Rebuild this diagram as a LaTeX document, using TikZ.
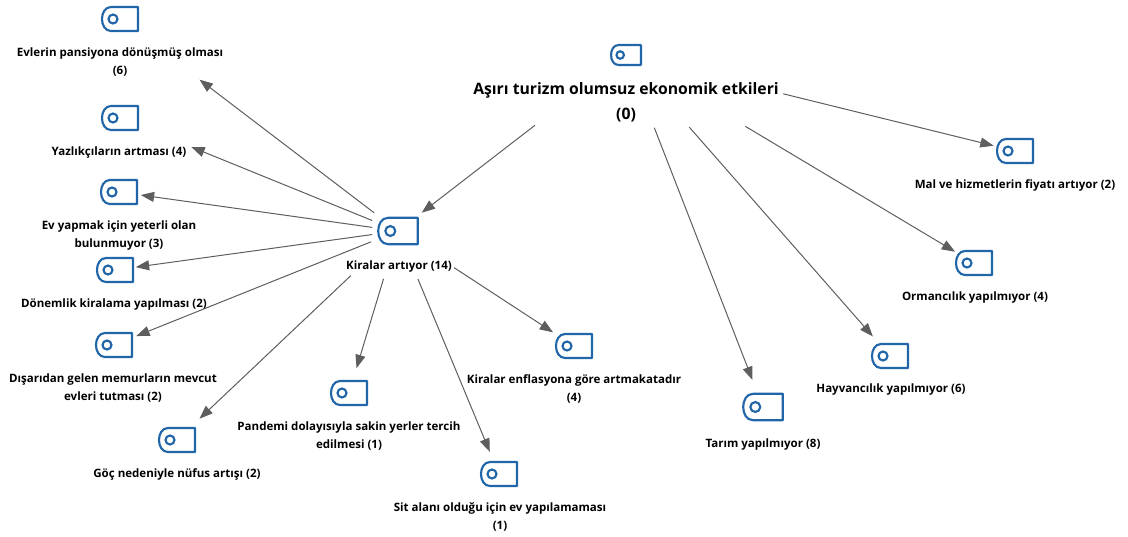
\documentclass[tikz,border=0pt]{standalone}
\usepackage{fontspec}
\setmainfont{Open Sans}
\usetikzlibrary{arrows.meta}
\definecolor{tagblue}{HTML}{2166A8}
\definecolor{arrowgray}{HTML}{5E5E5E}
\tikzset{
  tagbox/.style={minimum width=36*0.75pt, minimum height=25*0.75pt, inner sep=0pt},
  tagicon/.pic={
    \draw[tagblue, line width=1.6pt, line join=round] (18,-12) -- (-9,-12) .. controls (-15,-12) and (-18,-6) .. (-18,0)
      .. controls (-18,6) and (-15,12) .. (-9,12) -- (18,12) -- cycle;
    \draw[tagblue, line width=1.6pt] (-7,0) circle [radius=4.5];
  },
  lbl/.style={align=center, inner sep=0pt, font=\bfseries\fontsize{8.65}{13.5}\selectfont, text=black},
  lblbig/.style={align=center, inner sep=0pt, font=\bfseries\fontsize{11.8}{19}\selectfont, text=black},
  arr/.style={-{Triangle[length=10pt, width=7.5pt]}, arrowgray, line width=0.75pt}
}
\begin{document}
\begin{tikzpicture}[x=0.75pt, y=-0.75pt]
    \useasboundingbox (0,0) rectangle (1128,536);

    % Tag icons
    \foreach \nm/\x/\y/\s in {
        root/626/55/0.83, kira/398/231/1.1,
        evlerin/120/19/1, yazlik/120/118/1, evyap/119/192/1, donem/115/270/1,
        disari/114/345/1, goc/177/440/1, pandemi/349/393/1, sit/499/474/1,
        enflasyon/574/346/1, tarim/763/407/1.1, hayvan/890/356/1,
        orman/974/263/1, mal/1015/151/1} {
        \node[tagbox, scale=\s] (\nm) at (\x,\y) {};
        \pic[scale=\s] at (\nm) {tagicon};
    }

    % Labels
    \node[lblbig] (rootlbl) at (626,102) {Aşırı turizm olumsuz ekonomik etkileri\\(0)};
    \node[lbl] (kiralbl) at (399,266) {Kiralar artıyor (14)};
    \node[lbl] (evlerinlbl) at (120,62) {Evlerin pansiyona dönüşmüş olması\\(6)};
    \node[lbl] (yazliklbl) at (119,152) {Yazlıkçıların artması (4)};
    \node[lbl] (evyaplbl) at (119,235) {Ev yapmak için yeterli olan\\bulunmuyor (3)};
    \node[lbl] (donemlbl) at (114,304) {Dönemlik kiralama yapılması (2)};
    \node[lbl] (disarilbl) at (113,388) {Dışarıdan gelen memurların mevcut\\evleri tutması (2)};
    \node[lbl] (goclbl) at (177,474) {Göç nedeniyle nüfus artışı (2)};
    \node[lbl] (pandemilbl) at (349,436) {Pandemi dolayısıyla sakin yerler tercih\\edilmesi (1)};
    \node[lbl] (sitlbl) at (500,517) {Sit alanı olduğu için ev yapılamaması\\(1)};
    \node[lbl] (enflasyonlbl) at (574,389) {Kiralar enflasyona göre artmakatadır\\(4)};
    \node[lbl] (tarimlbl) at (763,444) {Tarım yapılmıyor (8)};
    \node[lbl] (hayvanlbl) at (891,389) {Hayvancılık yapılmıyor (6)};
    \node[lbl] (ormanlbl) at (975,297) {Ormancılık yapılmıyor (4)};
    \node[lbl] (mallbl) at (1015,185) {Mal ve hizmetlerin fiyatı artıyor (2)};

    % Arrows from the centre of one icon to the next
    \foreach \from/\to/\a/\b in {
        root/kira/115/30, root/tarim/78/29, root/hayvan/96/26, root/orman/139/22, root/mal/162/22,
        kira/evlerin/30/100, kira/yazlik/28/77, kira/evyap/26/22, kira/donem/26/21, kira/disari/29/24,
        kira/goc/65/31, kira/pandemi/50/26, kira/sit/52/24, kira/enflasyon/67/25} {
        \draw[arr, shorten <=\a*0.75pt, shorten >=\b*0.75pt] (\from.center) -- (\to.center);
    }
\end{tikzpicture}
\end{document}
